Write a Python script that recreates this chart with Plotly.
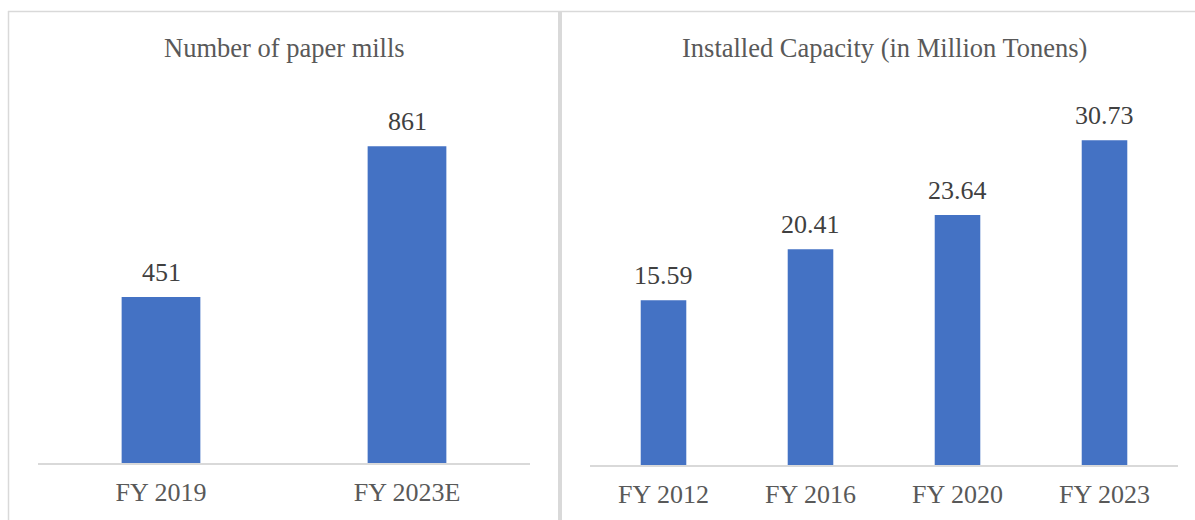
import plotly.graph_objects as go

W, H = 1195, 520

# Data
mills_categories = ["FY 2019", "FY 2023E"]
mills_values = [451, 861]
mills_labels = ["451", "861"]

capacity_categories = ["FY 2012", "FY 2016", "FY 2020", "FY 2023"]
capacity_values = [15.59, 20.41, 23.64, 30.73]
capacity_labels = ["15.59", "20.41", "23.64", "30.73"]

left_title = "Number of paper mills"
right_title = "Installed Capacity (in Million Tonens)"

FONT = "Liberation Serif"
BAR = "#4472C4"
GRID = "#D9D9D9"
TXT = "#595959"
LBL = "#404040"


def px_x(x):
    return x / W


def px_y(y):
    return 1 - y / H


fig = go.Figure()

fig.add_trace(go.Bar(
    x=mills_categories, y=mills_values, marker_color=BAR,
    marker_line_width=0, xaxis="x", yaxis="y", width=0.32,
    hoverinfo="skip",
))
fig.add_trace(go.Bar(
    x=capacity_categories, y=capacity_values, marker_color=BAR,
    marker_line_width=0, xaxis="x2", yaxis="y2", width=0.31,
    hoverinfo="skip",
))

annotations = []
for c, v, t in zip(mills_categories, mills_values, mills_labels):
    annotations.append(dict(x=c, y=v, xref="x", yref="y", text=t, showarrow=False,
                            yanchor="bottom", yshift=8,
                            font=dict(family=FONT, size=26, color=LBL)))
for c, v, t in zip(capacity_categories, capacity_values, capacity_labels):
    annotations.append(dict(x=c, y=v, xref="x2", yref="y2", text=t, showarrow=False,
                            yanchor="bottom", yshift=8,
                            font=dict(family=FONT, size=26, color=LBL)))

annotations.append(dict(x=(38 + 530) / 2 / W, y=px_y(48), xref="paper", yref="paper",
                        text=left_title, showarrow=False, yanchor="middle", xanchor="center",
                        font=dict(family=FONT, size=26.5, color=TXT)))
annotations.append(dict(x=(590 + 1178) / 2 / W, y=px_y(48), xref="paper", yref="paper",
                        text=right_title, showarrow=False, yanchor="middle", xanchor="center",
                        font=dict(family=FONT, size=26.5, color=TXT)))

shapes = [
    # top border
    dict(type="line", xref="paper", yref="paper", x0=px_x(8), x1=1.0,
         y0=px_y(11.5), y1=px_y(11.5), line=dict(color=GRID, width=1.5)),
    # left border
    dict(type="line", xref="paper", yref="paper", x0=px_x(8.5), x1=px_x(8.5),
         y0=px_y(11), y1=0, line=dict(color=GRID, width=1.5)),
    # middle separator
    dict(type="line", xref="paper", yref="paper", x0=px_x(560), x1=px_x(560),
         y0=px_y(11), y1=0, line=dict(color=GRID, width=4)),
]

axis_font = dict(family=FONT, size=26, color=TXT)

fig.update_layout(
    width=W, height=H,
    margin=dict(l=0, r=0, t=0, b=0),
    paper_bgcolor="white", plot_bgcolor="white",
    showlegend=False,
    xaxis=dict(domain=[px_x(38), px_x(530)], anchor="y", showline=True, linecolor=GRID,
               linewidth=2, showgrid=False, ticks="", tickfont=axis_font,
               fixedrange=True, ticklabelstandoff=5),
    yaxis=dict(domain=[px_y(463), px_y(95)], anchor="x", range=[0, 1000], visible=False,
               fixedrange=True),
    xaxis2=dict(domain=[px_x(590), px_x(1178)], anchor="y2", showline=True, linecolor=GRID,
                linewidth=2, showgrid=False, ticks="", tickfont=axis_font,
                fixedrange=True, ticklabelstandoff=5),
    yaxis2=dict(domain=[px_y(465), px_y(95)], anchor="x2", range=[0, 35], visible=False,
                fixedrange=True),
    annotations=annotations,
    shapes=shapes,
)

fig.write_html("out.html", config={"displayModeBar": False},
               post_script="document.body.style.margin='0';document.body.style.overflow='hidden';")
